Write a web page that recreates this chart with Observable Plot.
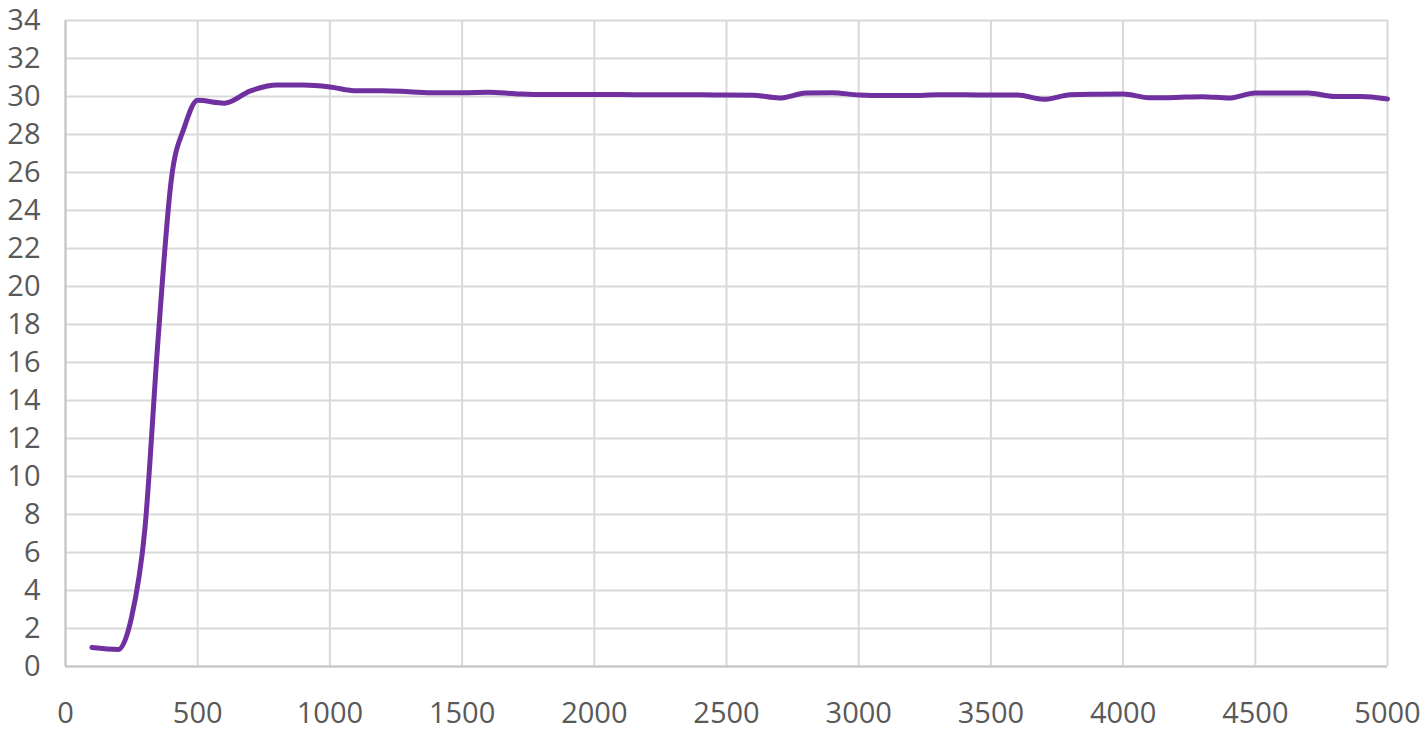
<!DOCTYPE html>
<html>
<head>
<meta charset="utf-8">
<script src="https://cdn.jsdelivr.net/npm/d3@7"></script>
<script src="https://cdn.jsdelivr.net/npm/@observablehq/plot@0.6"></script>
<style>
  html, body { margin: 0; padding: 0; background: #fff; }
  #chart svg { display: block; }
</style>
</head>
<body>
<div id="chart"></div>
<script>
const xValues = [100,200,250,300,350,400,450,500,600,700,800,900,1000,1100,1200,1300,1400,1500,1600,1700,1800,1900,2000,2100,2200,2300,2400,2500,2600,2700,2800,2900,3000,3100,3200,3300,3400,3500,3600,3700,3800,3900,4000,4100,4200,4300,4400,4500,4600,4700,4800,4900,5000];
const yValues = [1.0,0.9,2.6,7.2,17.2,25.6,28.4,29.8,29.65,30.3,30.6,30.6,30.5,30.3,30.3,30.25,30.2,30.2,30.22,30.15,30.1,30.1,30.1,30.1,30.09,30.09,30.09,30.08,30.07,29.92,30.18,30.2,30.08,30.05,30.05,30.09,30.09,30.08,30.08,29.85,30.09,30.12,30.13,29.93,29.95,29.99,29.92,30.18,30.18,30.18,30.0,30.0,29.87];
const xTicks = d3.range(0, 5001, 500);
const yTicks = d3.range(0, 35, 2);

const data = xValues.map((x, i) => ({x, y: yValues[i]}));

const chart = Plot.plot({
  width: 1425,
  height: 730,
  marginLeft: 65,
  marginRight: 38,
  marginTop: 20,
  marginBottom: 64,
  style: {fontFamily: "'Open Sans', sans-serif", fontSize: "29px", color: "#595959", background: "#fff"},
  x: {domain: [0, 5000], label: null},
  y: {domain: [0, 34], label: null},
  marks: [
    Plot.gridX(xTicks, {stroke: "#d9d9d9", strokeOpacity: 1, strokeWidth: 2}),
    Plot.gridY(yTicks, {stroke: "#d9d9d9", strokeOpacity: 1, strokeWidth: 2}),
    Plot.ruleX([0], {stroke: "#c6c6c6", strokeWidth: 2}),
    Plot.ruleY([0], {stroke: "#c6c6c6", strokeWidth: 2}),
    Plot.axisX({ticks: xTicks, tickSize: 0, tickPadding: 36, tickFormat: d => String(d), fill: "#595959", label: null}),
    Plot.axisY({ticks: yTicks, tickSize: 0, tickPadding: 25, tickFormat: d => String(d), fill: "#595959", label: null}),
    Plot.line(data, {x: "x", y: "y", stroke: "#7030a0", strokeWidth: 5, curve: "monotone-x", strokeLinecap: "round", strokeLinejoin: "round"})
  ]
});
document.getElementById("chart").appendChild(chart);
</script>
</body>
</html>
